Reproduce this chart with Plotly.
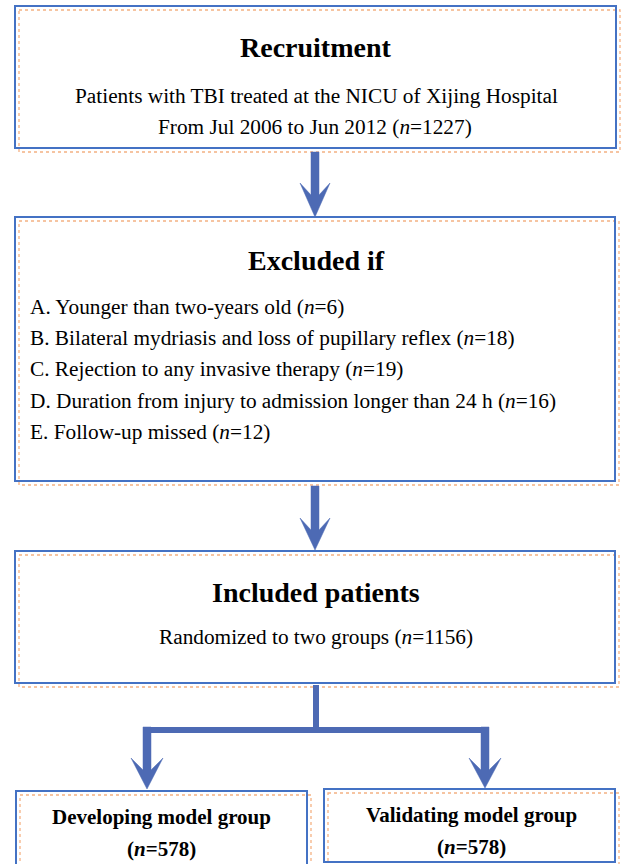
import plotly.graph_objects as go

# ---- data ----
recruit_title = "Recruitment"
recruit_text = "Patients with TBI treated at the NICU of Xijing Hospital"
recruit_period = "From Jul 2006 to Jun 2012"
total_n = 1227
exclude_title = "Excluded if"
exclusion_labels = [
    "A. Younger than two-years old",
    "B. Bilateral mydriasis and loss of pupillary reflex",
    "C. Rejection to any invasive therapy",
    "D. Duration from injury to admission longer than 24 h",
    "E. Follow-up missed",
]
exclusion_n = [6, 18, 19, 16, 12]
included_title = "Included patients"
included_text = "Randomized to two groups"
included_n = 1156
group_names = ["Developing model group", "Validating model group"]
group_n = [578, 578]

# ---- styles ----
W, H = 621, 864
BLUE = "#4472c4"
ARROW = "#4d6ab4"
ORANGE = "#f4b183"
FONT = "Liberation Serif, Times New Roman, serif"
TITLE_SIZE = 28
BODY_SIZE = 21.3

fig = go.Figure()
shapes = []
annotations = []


def box(x0, y0, x1, y1):
    shapes.append(dict(type="rect", x0=x0 + 4, y0=y0 + 4, x1=x1 + 4, y1=y1 + 4,
                       line=dict(color=ORANGE, width=1.3, dash="dot"), layer="below"))
    shapes.append(dict(type="rect", x0=x0, y0=y0, x1=x1, y1=y1,
                       line=dict(color=BLUE, width=2)))


def arrow(xc, y0, yhead, ytip, shaft=8, half=15, notch=12):
    s = shaft / 2
    path = (f"M {xc - s},{y0} L {xc + s},{y0} L {xc + s},{yhead + notch} "
            f"L {xc + half},{yhead} L {xc},{ytip} L {xc - half},{yhead} "
            f"L {xc - s},{yhead + notch} Z")
    shapes.append(dict(type="path", path=path, fillcolor=ARROW,
                       line=dict(color=ARROW, width=0.5)))


def text(x, y, s, size, anchor="center"):
    annotations.append(dict(x=x, y=y, xref="x", yref="y", text=s, showarrow=False,
                            xanchor=anchor, yanchor="middle",
                            font=dict(family=FONT, size=size, color="#000000")))


# boxes
box(15, 6, 616, 148)
box(15, 217, 615, 481)
box(15, 551, 615, 683)
box(16, 791, 307, 872)
box(324, 789, 615, 862)

# arrows
arrow(315, 152, 183, 217)
arrow(315, 486, 518, 550)

# split connector
shapes.append(dict(type="rect", x0=313, y0=685, x1=319, y1=733,
                   fillcolor=ARROW, line=dict(width=0)))
shapes.append(dict(type="rect", x0=143, y0=727, x1=489, y1=733,
                   fillcolor=ARROW, line=dict(width=0)))
arrow(147, 727, 758, 789, shaft=8, half=16, notch=12)
arrow(485, 727, 758, 788, shaft=8, half=16, notch=12)

# texts
text(316, 47, f"<b>{recruit_title}</b>", TITLE_SIZE)
text(316, 96, recruit_text, BODY_SIZE)
text(315, 127, f"{recruit_period} (<i>n</i>={total_n})", BODY_SIZE)

text(316, 260, f"<b>{exclude_title}</b>", TITLE_SIZE)
ys = [307, 338, 369, 401, 432]
for lab, n, y in zip(exclusion_labels, exclusion_n, ys):
    text(28, y, f"{lab} (<i>n</i>={n})", BODY_SIZE, anchor="left")

text(316, 592, f"<b>{included_title}</b>", TITLE_SIZE)
text(316, 637, f"{included_text} (<i>n</i>={included_n})", BODY_SIZE)

gx = [161, 471]
gy = [817, 815]
for name, n, x, y in zip(group_names, group_n, gx, gy):
    text(x, y, f"<b>{name}</b>", 21)
    text(x, y + 32, f"<b>(<i>n</i>={n})</b>", 21)

fig.update_layout(
    width=W, height=H,
    margin=dict(l=0, r=0, t=0, b=0),
    paper_bgcolor="white", plot_bgcolor="white",
    xaxis=dict(range=[0, W], visible=False, fixedrange=True),
    yaxis=dict(range=[H, 0], visible=False, fixedrange=True),
    shapes=shapes, annotations=annotations, showlegend=False,
)
fig.write_html(
    "out.html",
    config={"displayModeBar": False},
    post_script="document.body.style.margin='0';document.body.style.overflow='hidden';"
                "document.documentElement.style.overflow='hidden';",
)
